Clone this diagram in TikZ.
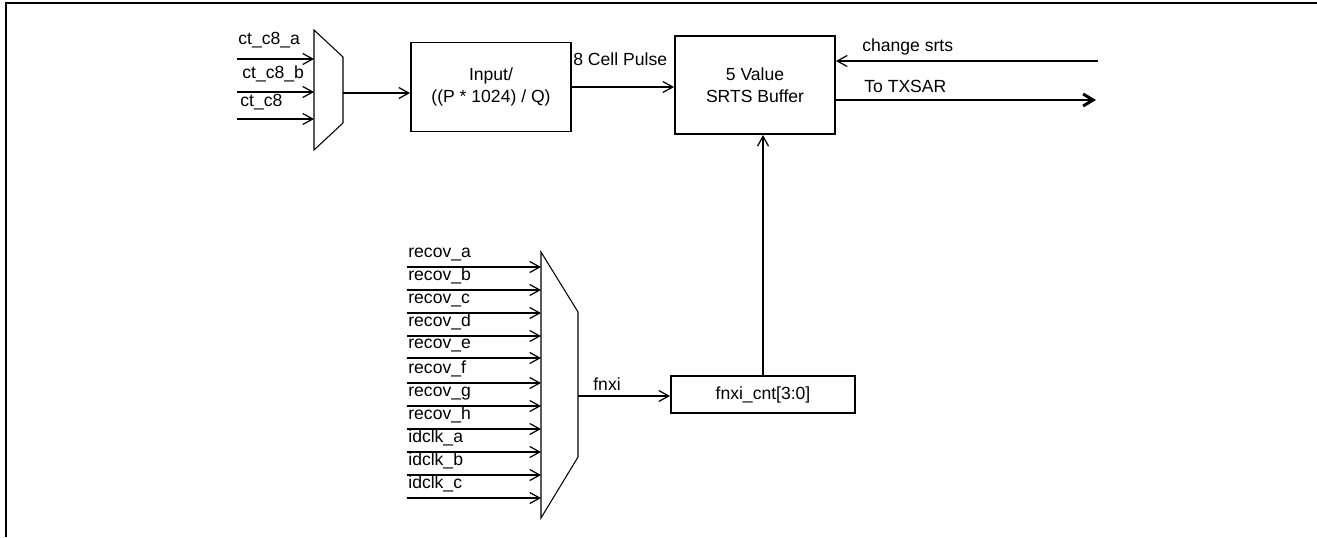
\documentclass[tikz,border=0pt]{standalone}
\usepackage{fontspec}
\setmainfont{Liberation Sans}
\usetikzlibrary{
	arrows.meta,
	positioning,
	calc
}

\begin{document}
\begin{tikzpicture}[>={Straight Barb[length=2mm,width=2.2mm,line width=0.7pt]},x=0.02cm,y=-0.02cm,
	font=\fontsize{10}{12.5}\selectfont,
	wire/.style={line width=1.1pt},
	blk/.style={draw,line width=1.1pt,inner sep=0pt,align=center},
	lbl/.style={anchor=base west,inner sep=0pt}]
		
		\useasboundingbox (0,0) rectangle (1317,537);
		
		% frame
		\draw[line width=1.1pt] (6,537)--(6,3)--(1317,3);
		
		% top mux
		\draw[line width=0.6pt] (314,30) coordinate (mt) -- (343,57) -- (343,123) -- (314,150) -- cycle;
		\coordinate (ctout) at (343,93);
		\foreach \y/\nm/\txt/\b/\lx in {59/ca/ct\_c8\_a/45/238, 92/cb/ct\_c8\_b/79/242, 119/cc/ct\_c8/107/240}{
			\coordinate (\nm) at (237,\y);
			\node[lbl] (\nm-lbl) at (\lx,\b){\txt};
			\draw[wire,->](\nm)--(\nm -| mt);
		}
		
		% blocks
		\node[blk,minimum width=3.2cm,minimum height=1.78cm] (inp) at (491,87){Input/\\((P * 1024) / Q)};
		\node[blk,minimum width=3.2cm,minimum height=1.96cm] (srts) at (755,85){5 Value\\SRTS Buffer};
		\node[blk,minimum width=3.68cm,minimum height=0.74cm] (cnt) at (763,394.5){fnxi\_cnt[3:0]};
		
		\draw[wire,->](ctout)--(ctout -| inp.west);
		\draw[wire,->](inp.east)--(inp.east -| srts.west);
		\node[lbl] (pulse) at (573,66){8 Cell Pulse};
		
		% right side
		\coordinate (chg) at (1098,61);
		\draw[wire,->](chg)--(chg -| srts.east);
		\node[lbl] (chg-lbl) at (862,52){change srts};
		
		\coordinate (tx) at (1096,100);
		\draw[line width=1.7pt,-{Straight Barb[length=2mm,width=2.4mm]}](tx -| srts.east)--(tx);
		\node[lbl] (tx-lbl) at (864,92){To TXSAR};
		
		\draw[wire,->](cnt.north)--(cnt.north |- srts.south);
		
		% bottom mux
		\draw[line width=0.6pt] (541,252) coordinate (mb) -- (578,312) -- (578,457) -- (541,518) -- cycle;
		\coordinate (fnxi) at (578,396);
		\foreach \y/\txt [count=\i] in {267/recov\_a,290/recov\_b,313/recov\_c,336/recov\_d,358/recov\_e,383/recov\_f,406/recov\_g,429/recov\_h,452/idclk\_a,475/idclk\_b,498/idclk\_c}{
			\coordinate (r\i) at (407,\y);
			\node[lbl] (r\i-lbl) at (408,\y-10){\txt};
			\draw[wire,->](r\i)--(r\i -| mb);
		}
		
		\draw[wire,->](fnxi)--(fnxi -| cnt.west);
		\node[lbl] (fnxi-lbl) at (593,390){fnxi};
		
	\end{tikzpicture}
\end{document}
